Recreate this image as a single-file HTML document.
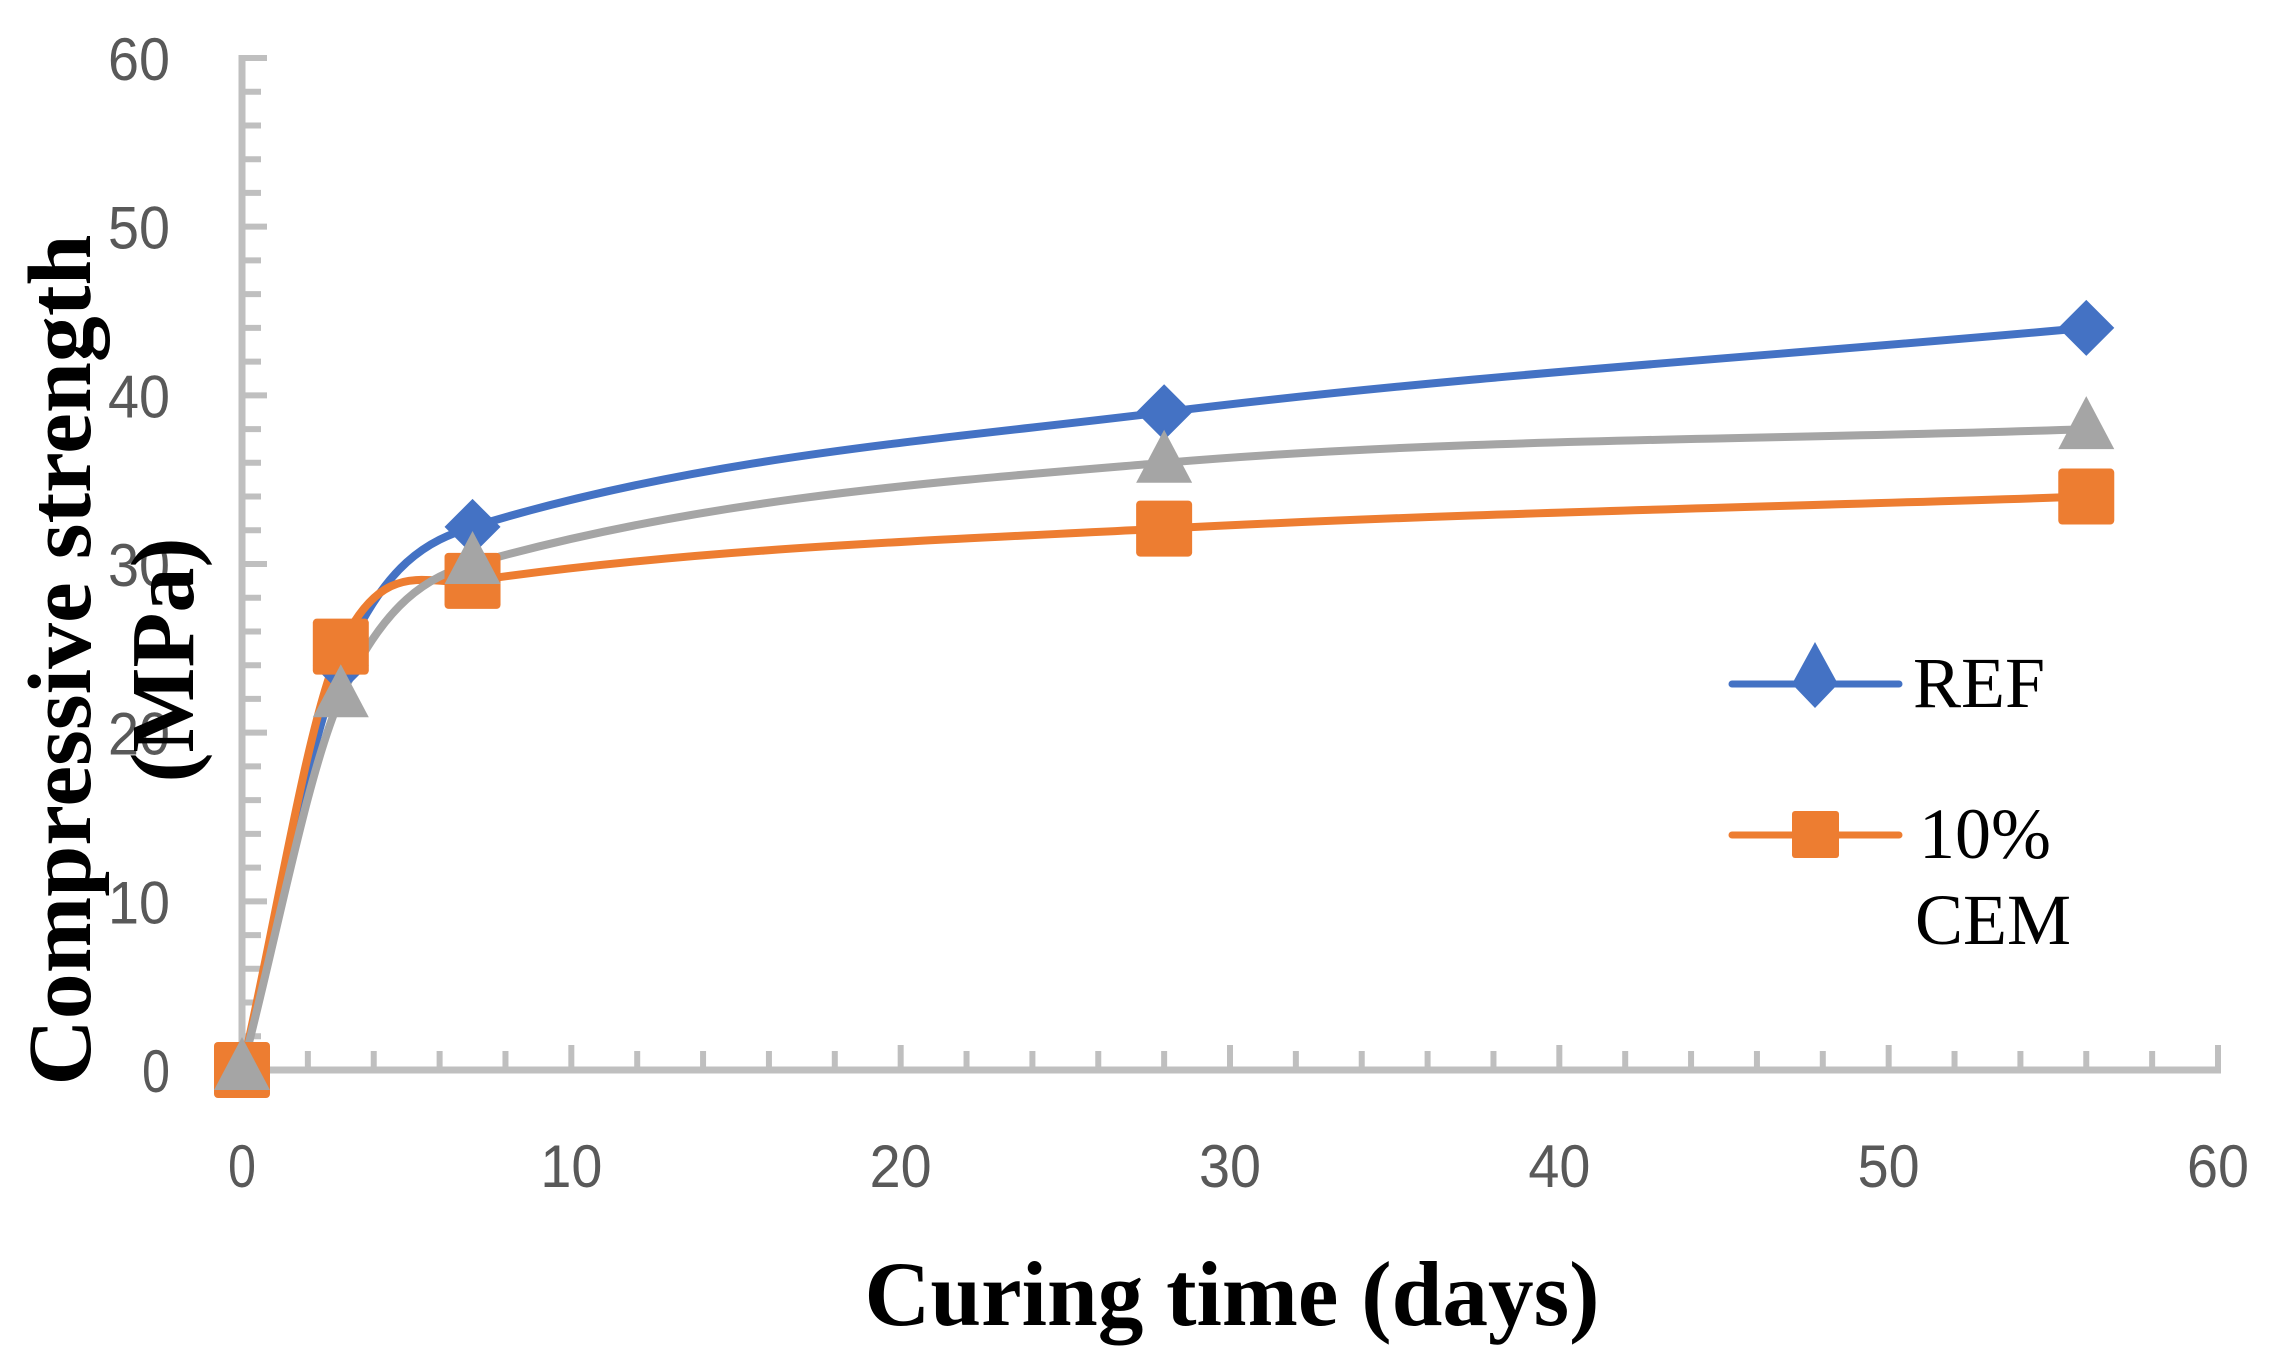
<!DOCTYPE html>
<html><head><meta charset="utf-8"><style>
html,body{margin:0;padding:0;background:#fff;}
svg{display:block;}
</style></head><body>
<svg id="chart" width="2278" height="1366" viewBox="0 0 2278 1366" xmlns="http://www.w3.org/2000/svg">
<g id="axes"></g>
<g id="series"></g>
<g id="legend">
  <line x1="1732" y1="684" x2="1899" y2="684" stroke="#4472C4" stroke-width="7" stroke-linecap="round"/>
  <path d="M1815,642 L1838,684 L1815,708 L1792,684 Z" fill="#4472C4"/>
  <text x="1913" y="707" font-family="Liberation Serif, serif" font-size="72" fill="#000">REF</text>
  <line x1="1732" y1="835" x2="1899" y2="835" stroke="#ED7D31" stroke-width="7" stroke-linecap="round"/>
  <rect x="1792" y="811" width="47" height="47" rx="3" fill="#ED7D31"/>
  <text x="1919" y="858" font-family="Liberation Serif, serif" font-size="72" fill="#000">10%</text>
  <text x="1915" y="944" font-family="Liberation Serif, serif" font-size="72" fill="#000">CEM</text>
</g>
<text x="1232" y="1325" text-anchor="middle" font-family="Liberation Serif, serif" font-weight="bold" font-size="92" textLength="735" lengthAdjust="spacingAndGlyphs">Curing time (days)</text>
<text transform="translate(90,660) rotate(-90)" text-anchor="middle" font-family="Liberation Serif, serif" font-weight="bold" font-size="90" textLength="851" lengthAdjust="spacingAndGlyphs">Compressive strength</text>
<text transform="translate(193,660) rotate(-90)" text-anchor="middle" font-family="Liberation Serif, serif" font-weight="bold" font-size="90">(MPa)</text>
</svg>
<script>
const days = [0, 3, 7, 28, 56];
const refValues = [0, 24, 32.2, 39, 44];
const cemValues = [0, 25.1, 29, 32.1, 34];
const thirdValues = [0, 22.1, 30, 36, 38];
const xTicks = [0, 10, 20, 30, 40, 50, 60];
const yTicks = [0, 10, 20, 30, 40, 50, 60];

const NS = 'http://www.w3.org/2000/svg';
const X0 = 242, X1 = 2218, Y0 = 1070, Y1 = 58;
function xs(v){ return X0 + (v/60)*(X1-X0); }
function ys(v){ return Y0 - (v/60)*(Y0-Y1); }
function mk(tag, attrs, parent){ const e = document.createElementNS(NS, tag); for (const k in attrs) e.setAttribute(k, attrs[k]); parent.appendChild(e); return e; }

const axes = document.getElementById('axes');
for (let v = 0; v <= 60; v += 2) {
  const major = v % 10 === 0;
  const t = mk('line', {x1: X0, x2: X0 + (major ? 25 : 19), y1: ys(v), y2: ys(v), stroke: '#BFBFBF', 'stroke-width': 6}, axes);
  
  
}
for (let v = 0; v <= 60; v += 2) {
  const major = v % 10 === 0;
  const t = mk('line', {x1: xs(v), x2: xs(v), y1: Y0, y2: Y0 - (major ? 25 : 19), stroke: '#BFBFBF', 'stroke-width': 6}, axes);
  
  
}
const ya = mk('line', {x1: X0, x2: X0, y1: Y1 - 3, y2: Y0 + 3, stroke: '#BFBFBF', 'stroke-width': 7}, axes);


const xa = mk('line', {x1: X0 - 3, x2: X1 + 3, y1: Y0, y2: Y0, stroke: '#BFBFBF', 'stroke-width': 7}, axes);


yTicks.forEach(v => {
  const t = mk('text', {x: 170, y: ys(v) + 22, 'text-anchor': 'end', 'font-family': 'Liberation Sans, sans-serif', 'font-size': 60, fill: '#595959', textLength: v === 0 ? 28 : 62, lengthAdjust: 'spacingAndGlyphs'}, axes);
  t.textContent = String(v);
  
  
});
xTicks.forEach(v => {
  const t = mk('text', {x: xs(v), y: 1187, 'text-anchor': 'middle', 'font-family': 'Liberation Sans, sans-serif', 'font-size': 60, fill: '#595959', textLength: v === 0 ? 28 : 62, lengthAdjust: 'spacingAndGlyphs'}, axes);
  t.textContent = String(v);
  
  
});

function smoothPath(xv, yv){
  const n = xv.length, m = [];
  for (let i = 0; i < n; i++) {
    if (i === 0) m.push((yv[1]-yv[0])/(xv[1]-xv[0]));
    else if (i === n-1) m.push((yv[n-1]-yv[n-2])/(xv[n-1]-xv[n-2]));
    else m.push((yv[i+1]-yv[i-1])/(xv[i+1]-xv[i-1]));
  }
  let d = 'M' + xs(xv[0]) + ',' + ys(yv[0]);
  for (let i = 0; i < n-1; i++) {
    const h = xv[i+1]-xv[i];
    const c1x = xv[i] + h/3, c1y = yv[i] + m[i]*h/3;
    const c2x = xv[i+1] - h/3, c2y = yv[i+1] - m[i+1]*h/3;
    d += ' C' + xs(c1x) + ',' + ys(c1y) + ' ' + xs(c2x) + ',' + ys(c2y) + ' ' + xs(xv[i+1]) + ',' + ys(yv[i+1]);
  }
  return d;
}
const series = document.getElementById('series');
const defs = [
  {vals: refValues, color: '#4472C4', marker: 'diamond', name: 'ref'},
  {vals: cemValues, color: '#ED7D31', marker: 'square', name: 'cem'},
  {vals: thirdValues, color: '#A5A5A5', marker: 'triangle', name: 'third'}
];
defs.forEach(s => {
  const p = mk('path', {d: smoothPath(days, s.vals), fill: 'none', stroke: s.color, 'stroke-width': 8, 'stroke-linejoin': 'round'}, series);
  
  
});
defs.forEach(s => {
  days.forEach((d, i) => {
    const cx = xs(d), cy = ys(s.vals[i]);
    let m;
    if (s.marker === 'diamond') m = mk('path', {d: `M${cx},${cy-28} L${cx+28},${cy} L${cx},${cy+28} L${cx-28},${cy} Z`, fill: s.color}, series);
    else if (s.marker === 'square') m = mk('rect', {x: cx-28, y: cy-28, width: 56, height: 56, rx: 4, fill: s.color}, series);
    else m = mk('path', {d: `M${cx},${cy-33} L${cx+28},${cy+20} L${cx-28},${cy+20} Z`, fill: s.color}, series);
    
    
  });
});
</script>
</body></html>
